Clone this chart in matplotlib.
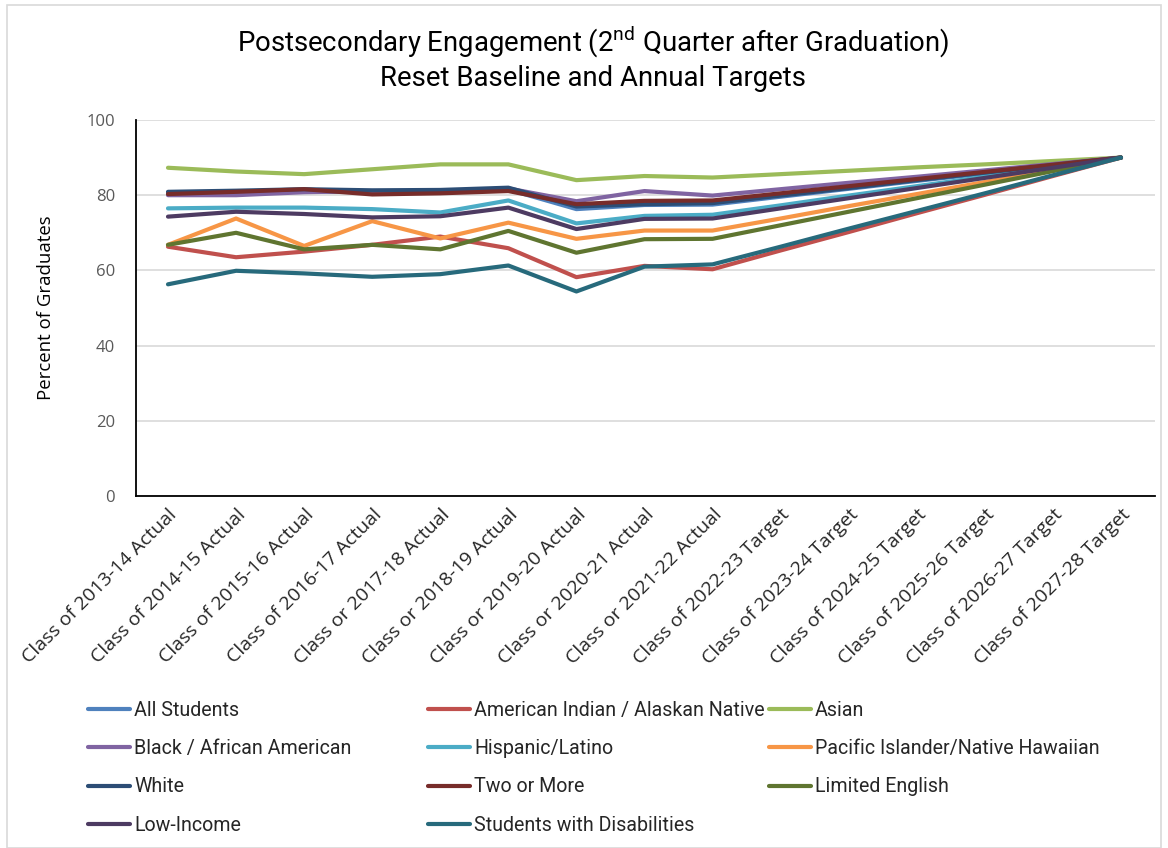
import matplotlib
matplotlib.use("Agg")
import matplotlib.pyplot as plt
from matplotlib.patches import Rectangle
from matplotlib import font_manager

categories = [
    "Class of 2013-14 Actual", "Class of 2014-15 Actual", "Class of 2015-16 Actual",
    "Class of 2016-17 Actual", "Class or 2017-18 Actual", "Class or 2018-19 Actual",
    "Class or 2019-20 Actual", "Class or 2020-21 Actual", "Class or 2021-22 Actual",
    "Class of 2022-23 Target", "Class of 2023-24 Target", "Class of 2024-25 Target",
    "Class of 2025-26 Target", "Class of 2026-27 Target", "Class of 2027-28 Target",
]

all_students = [80.5, 80.7, 81.0, 80.8, 80.9, 81.5, 76.3, 77.4, 77.5, 79.6, 81.7, 83.8, 85.8, 87.9, 90.0]
american_indian = [66.3, 63.5, 65.0, 66.8, 69.0, 65.9, 58.2, 61.2, 60.3, 65.3, 70.2, 75.2, 80.1, 85.1, 90.0]
asian = [87.3, 86.3, 85.6, 86.9, 88.2, 88.2, 84.0, 85.1, 84.7, 85.6, 86.5, 87.4, 88.2, 89.1, 90.0]
black = [80.0, 80.0, 80.8, 81.1, 81.0, 81.8, 78.4, 81.1, 79.9, 81.6, 83.3, 84.9, 86.6, 88.3, 90.0]
hispanic = [76.5, 76.7, 76.7, 76.3, 75.4, 78.6, 72.5, 74.5, 74.8, 77.3, 79.9, 82.4, 84.9, 87.5, 90.0]
pacific = [66.8, 73.8, 66.5, 73.1, 68.5, 72.7, 68.4, 70.6, 70.6, 73.8, 77.1, 80.3, 83.5, 86.8, 90.0]
white = [80.9, 81.2, 81.6, 81.3, 81.4, 82.0, 77.0, 77.6, 77.9, 79.9, 81.9, 84.0, 86.0, 88.0, 90.0]
two_or_more = [80.3, 80.9, 81.6, 80.2, 80.5, 81.1, 77.6, 78.5, 78.6, 80.5, 82.4, 84.3, 86.2, 88.1, 90.0]
limited_english = [66.8, 70.0, 65.6, 66.8, 65.6, 70.5, 64.7, 68.3, 68.4, 72.0, 75.6, 79.2, 82.8, 86.4, 90.0]
low_income = [74.3, 75.6, 75.0, 74.1, 74.4, 76.7, 71.0, 73.7, 73.8, 76.5, 79.2, 81.9, 84.6, 87.3, 90.0]
disabilities = [56.3, 59.9, 59.2, 58.3, 59.0, 61.3, 54.4, 61.0, 61.6, 66.3, 71.1, 75.8, 80.5, 85.3, 90.0]

series_names = [
    "All Students", "American Indian / Alaskan Native", "Asian",
    "Black / African American", "Hispanic/Latino", "Pacific Islander/Native Hawaiian",
    "White", "Two or More", "Limited English",
    "Low-Income", "Students with Disabilities",
]
series_values = [
    all_students, american_indian, asian, black, hispanic, pacific,
    white, two_or_more, limited_english, low_income, disabilities,
]
series_colors = [
    "#4F81BD", "#C0504D", "#9BBB59", "#8064A2", "#4BACC6", "#F79646",
    "#2C4D75", "#772C2A", "#5F7530", "#4D3B62", "#276A7C",
]
y_ticks = [0, 20, 40, 60, 80, 100]

available = {f.name for f in font_manager.fontManager.ttflist}
narrow = "Roboto" if "Roboto" in available else "DejaVu Sans"
axis_font = "Open Sans" if "Open Sans" in available else "DejaVu Sans"

plt.rcParams["mathtext.fontset"] = "custom"
plt.rcParams["mathtext.rm"] = narrow

W, H = 1168, 848
fig = plt.figure(figsize=(W / 100, H / 100), dpi=100)
fig.patch.set_facecolor("white")
fig.add_artist(Rectangle((7 / W, 0), (1161 - 7) / W, (H - 5) / H, transform=fig.transFigure,
                         fill=False, edgecolor="#D9D9D9", linewidth=1.2))

ax = fig.add_axes([136 / W, 1 - 496 / H, (1155 - 136) / W, (496 - 120) / H])
x = list(range(len(categories)))
lines = []
for name, vals, col in zip(series_names, series_values, series_colors):
    ln, = ax.plot(x, vals, color=col, linewidth=3.0, label=name,
                  solid_joinstyle="round", solid_capstyle="round")
    lines.append(ln)

ax.set_xlim(-0.47, 14.5)
ax.set_ylim(0, 100)
ax.set_yticks(y_ticks)
ax.set_yticklabels([str(v) for v in y_ticks], fontsize=12, color="#595959", family=axis_font)
ax.yaxis.grid(True, color="#D9D9D9", linewidth=1.2)
ax.set_axisbelow(True)
ax.tick_params(axis="both", length=0)
ax.tick_params(axis="y", pad=15)
ax.set_xticks(x)
ax.set_xticklabels(categories, rotation=45, ha="right", va="top", rotation_mode="anchor",
                   fontsize=14, color="#262626", family=axis_font)
ax.tick_params(axis="x", pad=7)
for s in ["top", "right"]:
    ax.spines[s].set_visible(False)
for s in ["left", "bottom"]:
    ax.spines[s].set_color("black")
    ax.spines[s].set_linewidth(1.3)
ax.set_ylabel("Percent of Graduates", fontsize=13.4, family=axis_font, color="black")
ax.yaxis.set_label_coords((55 - 136) / (1155 - 136), 0.5)

fig.text(593 / W, 1 - 42 / H, "Postsecondary Engagement (2$^{\\mathrm{nd}}$ Quarter after Graduation)",
         ha="center", va="center", fontsize=19.8, family=narrow, color="black")
fig.text(593 / W, 1 - 78 / H, "Reset Baseline and Annual Targets",
         ha="center", va="center", fontsize=19.8, family=narrow, color="black")

col_x = [88, 428, 769]
groups = [[0, 3, 6, 9], [1, 4, 7, 10], [2, 5, 8]]
for cx, idxs in zip(col_x, groups):
    leg = fig.legend([lines[i] for i in idxs], [series_names[i] for i in idxs],
                     loc="upper left", bbox_to_anchor=(cx / W, 1 - 701 / H),
                     frameon=False, handlelength=2.15, handletextpad=0.2,
                     labelspacing=0.98, borderaxespad=0, borderpad=0,
                     prop={"family": narrow, "size": 14.1})
    for t in leg.get_texts():
        t.set_color("#262626")

fig.savefig("out.png", dpi=100, facecolor="white")
